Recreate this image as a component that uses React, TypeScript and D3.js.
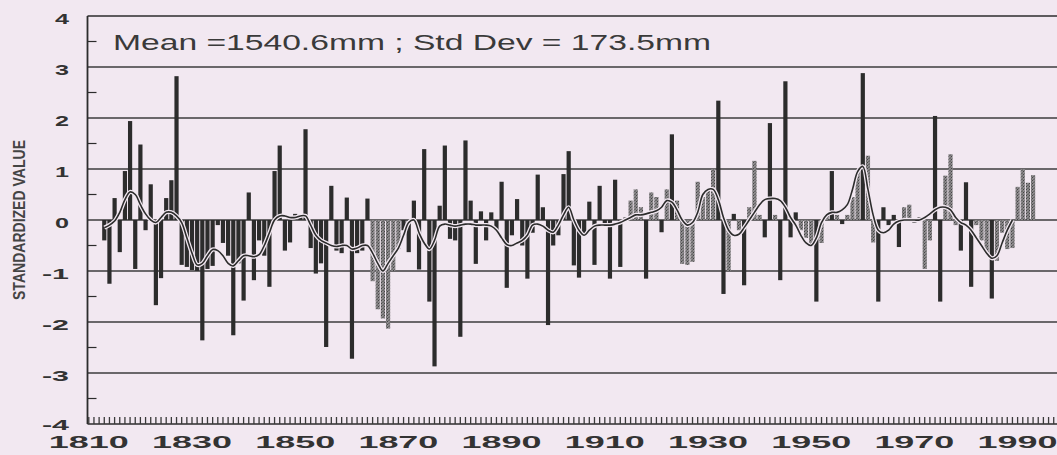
import React from "react";
import * as d3 from "d3";

// Annual rainfall anomalies (standardized), one value per year starting 1813
const FIRST_YEAR = 1813;
const ANNUAL_Z: number[] = [
  -0.40, -1.25, 0.43, -0.63, 0.96, 1.94, -0.96, 1.48, -0.20, 0.70, // 1813-1822
  -1.67, -1.14, 0.43, 0.78, 2.82, -0.88, -0.92, -0.98, -1.00, -2.36, // 1823-1832
  -0.96, -0.90, -0.10, -0.45, -0.70, -2.26, -0.85, -1.58, 0.54, -1.18, // 1833-1842
  -0.40, -0.70, -1.31, 0.96, 1.46, -0.60, -0.44, 0.12, 0.10, 1.78, // 1843-1852
  -0.55, -1.05, -0.85, -2.49, 0.67, -0.60, -0.65, 0.44, -2.72, -0.65, // 1853-1862
  -0.60, 0.42, -1.20, -1.75, -1.93, -2.13, -1.00, -0.57, -0.20, -0.63, // 1863-1872
  0.38, -0.97, 1.39, -1.60, -2.87, 0.28, 1.46, -0.37, -0.40, -2.29, // 1873-1882
  1.56, 0.38, -0.86, 0.17, -0.40, 0.15, -0.20, 0.75, -1.33, -0.30, // 1883-1892
  0.41, -0.50, -1.15, -0.25, 0.89, 0.25, -2.06, -0.50, -0.30, 0.90, // 1893-1902
  1.35, -0.89, -1.13, -0.30, 0.36, -0.88, 0.67, -0.10, -1.15, 0.79, // 1903-1912
  -0.92, 0.05, 0.38, 0.60, 0.25, -1.15, 0.54, 0.45, -0.24, 0.60, // 1913-1922
  1.68, 0.38, -0.86, -0.88, -0.82, 0.75, 0.45, 0.60, 1.00, 2.34, // 1923-1932
  -1.45, -1.00, 0.12, -0.20, -1.28, 0.25, 1.16, 0.10, -0.34, 1.90, // 1933-1942
  0.10, -1.18, 2.72, -0.34, 0.15, -0.20, -0.35, -0.50, -1.60, -0.45, // 1943-1952
  0.10, 0.96, 0.10, -0.08, 0.10, 0.45, 0.95, 2.88, 1.26, -0.44, // 1953-1962
  -1.60, 0.25, -0.10, 0.10, -0.53, 0.25, 0.30, -0.05, 0.05, -0.96, // 1963-1972
  -0.40, 2.04, -1.60, 0.87, 1.29, -0.10, -0.60, 0.74, -1.31, -0.10, // 1973-1982
  -0.40, -0.65, -1.54, -0.80, -0.25, -0.57, -0.55, 0.65, 1.00, 0.73, // 1983-1992
  0.88, // 1993
];

// Low-pass filtered series, 1813-1989
const SMOOTH_Z: number[] = [
  -0.15, -0.10, -0.02, 0.15, 0.40, 0.55, 0.50, 0.30, 0.12, 0.00, // 1813-1822
  -0.05, 0.05, 0.15, 0.15, 0.08, -0.05, -0.35, -0.65, -0.88, -0.85, // 1823-1832
  -0.70, -0.58, -0.60, -0.70, -0.85, -0.90, -0.80, -0.70, -0.70, -0.72, // 1833-1842
  -0.68, -0.50, -0.25, 0.00, 0.08, 0.08, 0.05, 0.05, 0.08, 0.08, // 1843-1852
  -0.10, -0.30, -0.40, -0.45, -0.50, -0.52, -0.50, -0.50, -0.57, -0.55, // 1853-1862
  -0.50, -0.50, -0.65, -0.85, -1.00, -0.85, -0.70, -0.55, -0.30, -0.05, // 1863-1872
  0.00, -0.25, -0.45, -0.57, -0.40, -0.12, -0.08, -0.10, -0.12, -0.10, // 1873-1882
  -0.08, -0.08, -0.10, -0.10, -0.10, -0.12, -0.20, -0.35, -0.48, -0.50, // 1883-1892
  -0.45, -0.40, -0.30, -0.10, -0.08, -0.12, -0.20, -0.24, -0.10, 0.10, // 1893-1902
  0.25, 0.00, -0.20, -0.30, -0.20, -0.12, -0.10, -0.10, -0.10, -0.08, // 1903-1912
  -0.05, 0.00, 0.05, 0.10, 0.10, 0.12, 0.15, 0.18, 0.25, 0.38, // 1913-1922
  0.35, 0.20, 0.00, -0.10, -0.05, 0.15, 0.50, 0.60, 0.60, 0.40, // 1923-1932
  0.05, -0.20, -0.30, -0.28, -0.15, 0.00, 0.15, 0.30, 0.40, 0.42, // 1933-1942
  0.42, 0.38, 0.25, 0.05, -0.10, -0.30, -0.45, -0.50, -0.35, -0.05, // 1943-1952
  0.10, 0.15, 0.15, 0.20, 0.30, 0.60, 0.95, 1.05, 0.60, 0.10, // 1953-1962
  -0.20, -0.25, -0.20, -0.08, -0.02, 0.00, 0.00, 0.00, 0.00, 0.05, // 1963-1972
  0.12, 0.20, 0.25, 0.25, 0.20, 0.05, -0.05, -0.10, -0.20, -0.35, // 1973-1982
  -0.50, -0.65, -0.75, -0.70, -0.45, -0.20, 0.00, // 1983-1989
];

const Y_TICKS = [4, 3, 2, 1, 0, -1, -2, -3, -4];
const GRID_VALUES = [3, 2, 1, 0, -1, -2, -3];
const YEAR_LABELS = [1810, 1830, 1850, 1870, 1890, 1910, 1930, 1950, 1970, 1990];
const TITLE = "Mean =1540.6mm ; Std Dev = 173.5mm";
const Y_TITLE = "STANDARDIZED VALUE";

// Year ranges printed with a stippled grey screen (bars below the given magnitude)
const STIPPLE_SPANS = [
  { from: 1864, to: 1870, below: 5 },
  { from: 1915, to: 1993, below: 1.35 },
];

const W = 1057;
const H = 455;
const BG = "#f2e8f1";
const INK = "#2c2c2c";
const LEFT = 87.5;
const TOP = 16;
const BOTTOM = 424;

export default function App() {
  const x = d3.scaleLinear().domain([1810, 1999]).range([88.8, 88.8 + 189 * 5.16]);
  const y = d3.scaleLinear().domain([-4, 4]).range([BOTTOM, TOP]);

  const years = ANNUAL_Z.map((_, i) => FIRST_YEAR + i);
  const barW = 4.2;

  const isStippled = (i: number) => {
    const yr = years[i];
    const v = ANNUAL_Z[i];
    const span = STIPPLE_SPANS.find((s) => yr >= s.from && yr <= s.to);
    if (!span || Math.abs(v) >= span.below) return false;
    const nb = [ANNUAL_Z[i - 1], ANNUAL_Z[i + 1]].filter((n) => n !== undefined);
    return nb.some((n) => Math.sign(n) === Math.sign(v) && Math.abs(n) > 0.2);
  };

  const smoothLine = d3
    .line<number>()
    .x((_, i) => x(FIRST_YEAR + i))
    .y((d) => y(d))
    .curve(d3.curveCatmullRom.alpha(0.5));
  const smoothPath = smoothLine(SMOOTH_Z) || "";

  const halfTicks = d3.range(-3.5, 4, 1);
  const yearTicks = d3.range(1810, 1999, 1);

  return (
    <div style={{ position: "fixed", inset: 0, background: BG }}>
      <svg width={W} height={H} style={{ display: "block" }}>
        <defs>
          <pattern id="stipple" width="3" height="3" patternUnits="userSpaceOnUse">
            <rect width="3" height="3" fill="#8c898c" />
            <rect x="0" y="0" width="1" height="1" fill="#444" />
            <rect x="2" y="1.5" width="1" height="1" fill="#555" />
            <rect x="1" y="2" width="1" height="1" fill="#666" />
          </pattern>
        </defs>
        <rect width={W} height={H} fill={BG} />

        {/* frame and gridlines */}
        <line x1={LEFT} x2={W} y1={y(4)} y2={y(4)} stroke={INK} strokeWidth={1.4} />
        {GRID_VALUES.map((v) => (
          <line key={v} x1={LEFT} x2={W} y1={y(v)} y2={y(v)} stroke="#3c3c3c" strokeWidth={1.3} />
        ))}
        <line x1={LEFT} x2={W} y1={y(-4)} y2={y(-4)} stroke={INK} strokeWidth={1.6} />
        <line x1={LEFT} x2={LEFT} y1={y(4)} y2={y(-4)} stroke={INK} strokeWidth={1.8} />

        {/* half-unit ticks on the value axis */}
        {halfTicks.map((v) => (
          <line key={v} x1={LEFT} x2={LEFT + 9} y1={y(v)} y2={y(v)} stroke={INK} strokeWidth={1.2} />
        ))}

        {/* yearly ticks along the base */}
        {yearTicks.map((yr) => (
          <line key={yr} x1={x(yr)} x2={x(yr)} y1={y(-4) - 7} y2={y(-4)} stroke="#3a3a3a" strokeWidth={1.3} />
        ))}

        {/* annual bars */}
        {ANNUAL_Z.map((v, i) => {
          const y0 = y(Math.max(0, v));
          const y1 = y(Math.min(0, v));
          return (
            <rect
              key={years[i]}
              x={x(years[i]) - barW / 2}
              y={y0}
              width={barW}
              height={Math.max(0.5, y1 - y0)}
              fill={isStippled(i) ? "url(#stipple)" : INK}
            />
          );
        })}

        {/* smoothed curve with a light halo */}
        <path d={smoothPath} fill="none" stroke={BG} strokeWidth={4.2} strokeLinejoin="round" />
        <path d={smoothPath} fill="none" stroke={INK} strokeWidth={1.6} strokeLinejoin="round" />

        {/* value axis labels */}
        {Y_TICKS.map((v) => (
          <text
            key={v}
            x={69}
            y={y(v) + (v === -4 ? 6 : 8)}
            textAnchor="end"
            fontFamily="'Liberation Sans', Arial, sans-serif"
            fontWeight="bold"
            fontSize={14}
            fill="#333"
            textLength={v < 0 ? 27 : 14}
            lengthAdjust="spacingAndGlyphs"
          >
            {v < 0 ? `-${Math.abs(v)}` : String(v)}
          </text>
        ))}

        {/* year labels */}
        {YEAR_LABELS.map((yr) => (
          <text
            key={yr}
            x={x(yr)}
            y={448}
            textAnchor="middle"
            fontFamily="'Liberation Sans', Arial, sans-serif"
            fontWeight="bold"
            fontSize={17}
            fill="#333"
            textLength={80}
            lengthAdjust="spacingAndGlyphs"
          >
            {yr}
          </text>
        ))}

        {/* axis title */}
        <text
          transform={`translate(25, ${y(0)}) rotate(-90)`}
          textAnchor="middle"
          fontFamily="'Liberation Sans Narrow', 'Liberation Sans', Arial, sans-serif"
          fontWeight="bold"
          fontSize={16}
          fill="#444"
          textLength={160}
          lengthAdjust="spacingAndGlyphs"
        >
          {Y_TITLE}
        </text>

        {/* statistics caption */}
        <text
          x={113}
          y={50}
          fontFamily="'Liberation Sans', Arial, sans-serif"
          fontSize={22}
          fill="#3a3a3a"
          textLength={598}
          lengthAdjust="spacingAndGlyphs"
        >
          {TITLE}
        </text>
      </svg>
    </div>
  );
}
